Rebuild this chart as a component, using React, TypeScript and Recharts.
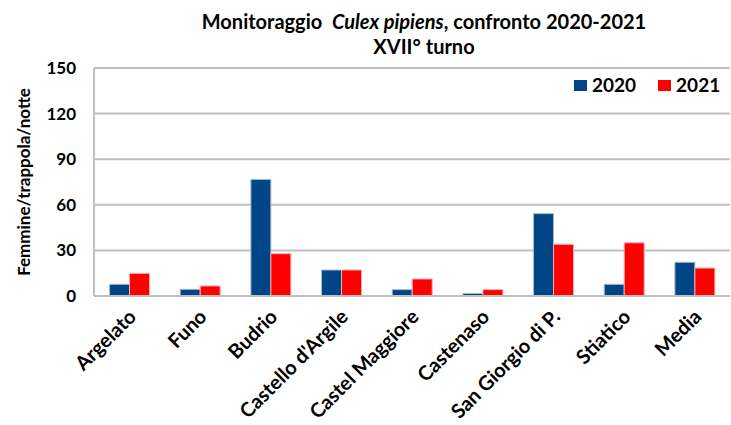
import { Bar, BarChart, CartesianGrid, XAxis, YAxis } from "recharts";

const sites = [
  "Argelato",
  "Funo",
  "Budrio",
  "Castello d'Argile",
  "Castel Maggiore",
  "Castenaso",
  "San Giorgio di P.",
  "Stiatico",
  "Media",
];
const values2020 = [7.7, 4.4, 76.7, 17.1, 4.2, 1.7, 54.2, 7.7, 22.2];
const values2021 = [14.9, 6.6, 27.8, 17.1, 11.2, 4.2, 34, 35, 18.4];
const yTicks = [0, 30, 60, 90, 120, 150];

const data = sites.map((site, i) => ({
  site,
  y2020: values2020[i],
  y2021: values2021[i],
}));

const FONT = "Lato, 'Open Sans', sans-serif";
const BLUE = "#004586";
const RED = "#ff0000";

const SiteTick = (props: any) => {
  const { x, y, payload } = props;
  return (
    <g transform={`translate(${x + 8},${y + 22})`}>
      <text
        transform="rotate(-45)"
        textAnchor="end"
        fontFamily={FONT}
        fontWeight={700}
        fontSize={20}
        fill="#000"
      >
        {payload.value}
      </text>
    </g>
  );
};

const legendItems = [
  { name: "2020", color: BLUE },
  { name: "2021", color: RED },
];

export default function App() {
  return (
    <div style={{ position: "absolute", left: 0, top: 0, width: 731, height: 425, background: "#fff" }}>
      <BarChart
        width={731}
        height={425}
        data={data}
        margin={{ top: 68, right: 1, bottom: 0, left: 0 }}
        barCategoryGap="22%"
        barGap={0}
      >
        <CartesianGrid vertical={false} stroke="#c0c0c0" strokeWidth={2} />
        <XAxis
          dataKey="site"
          interval={0}
          tick={<SiteTick />}
          tickLine={false}
          tickSize={0}
          tickMargin={0}
          axisLine={{ stroke: "#c0c0c0", strokeWidth: 2 }}
          height={129}
        />
        <YAxis
          domain={[0, 150]}
          ticks={yTicks}
          width={94}
          tickLine={false}
          tickSize={0}
          tickMargin={18}
          axisLine={{ stroke: "#c0c0c0", strokeWidth: 2 }}
          tick={{ fontFamily: FONT, fontWeight: 700, fontSize: 17, fill: "#000" }}
          label={{
            value: "Femmine/trappola/notte",
            angle: -90,
            position: "insideLeft",
            dx: 19,
            style: { fontFamily: FONT, fontWeight: 700, fontSize: 17, fill: "#000", textAnchor: "middle" },
          }}
        />
        <Bar dataKey="y2020" name="2020" fill={BLUE} stroke="#a9bcd6" strokeWidth={1} isAnimationActive={false} />
        <Bar dataKey="y2021" name="2021" fill={RED} stroke="#f5b0b0" strokeWidth={1} isAnimationActive={false} />
      </BarChart>
      <div
        style={{
          position: "absolute",
          left: 0,
          width: 848,
          top: 9,
          textAlign: "center",
          fontFamily: FONT,
          fontWeight: 700,
          fontSize: 20,
          lineHeight: "25px",
          color: "#000",
        }}
      >
        <div>
          Monitoraggio&nbsp; <i>Culex pipiens</i>, confronto 2020-2021
        </div>
        <div>XVII° turno</div>
      </div>
      <div
        style={{
          position: "absolute",
          left: 574,
          top: 74,
          display: "flex",
          gap: 22,
          fontFamily: FONT,
          fontWeight: 700,
          fontSize: 19,
          lineHeight: "22px",
          color: "#000",
        }}
      >
        {legendItems.map((s) => (
          <span key={s.name} style={{ display: "flex", alignItems: "center", gap: 5 }}>
            <span style={{ width: 13, height: 11, background: s.color, display: "inline-block" }} />
            {s.name}
          </span>
        ))}
      </div>
    </div>
  );
}
